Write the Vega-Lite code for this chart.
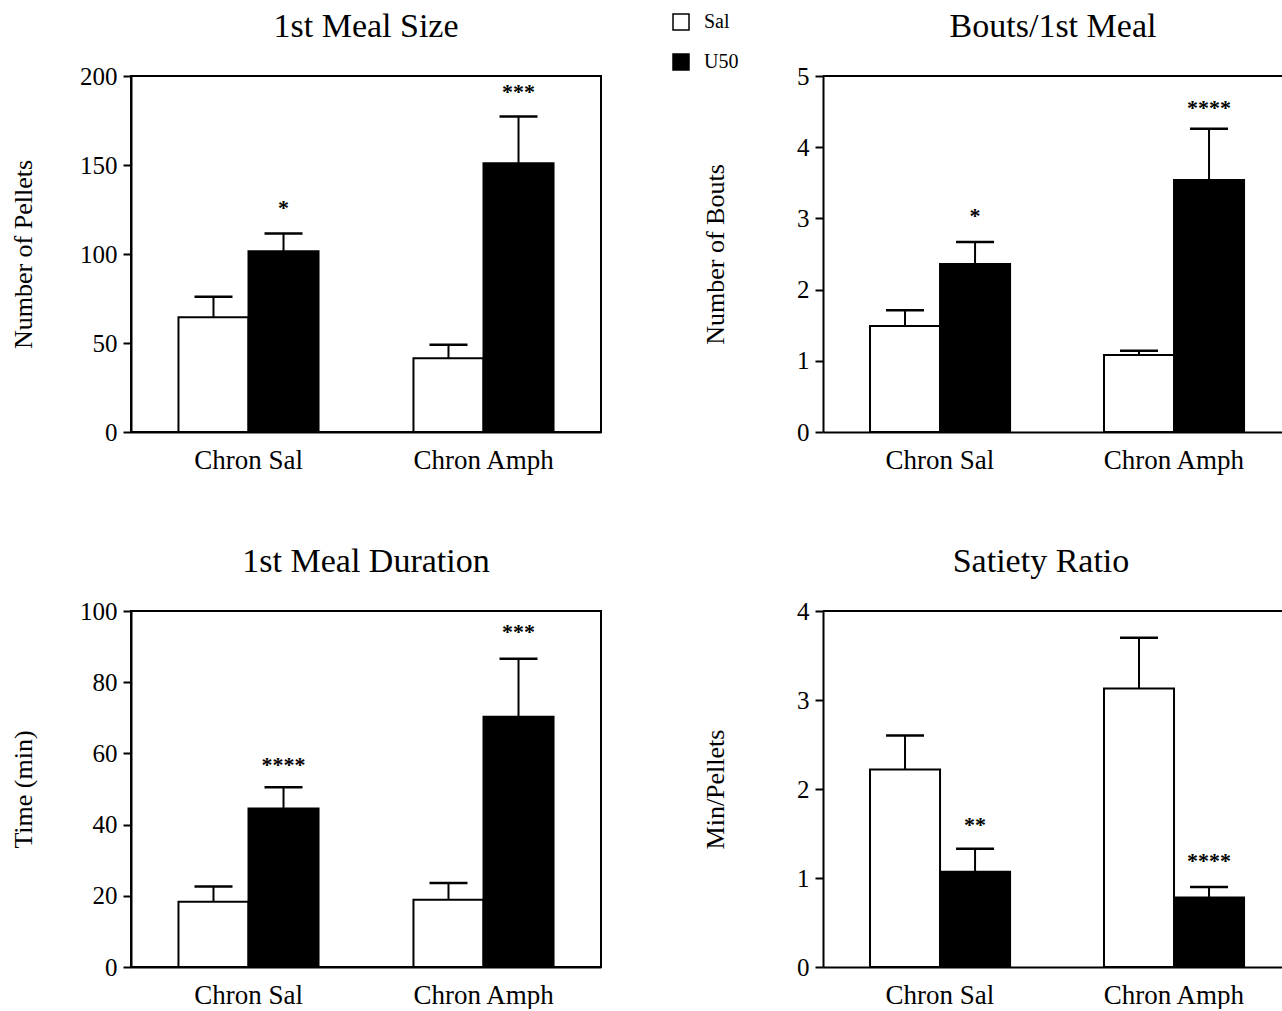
{
  "$schema": "https://vega.github.io/schema/vega-lite/v6.json",
  "background": "white",
  "padding": {"left": 9, "top": 9, "right": 0, "bottom": 0},
  "bounds": "flush",
  "spacing": {"row": 179, "column": 222},
  "columns": 2,
  "datasets": {
    "d": [
      {"panel": "size", "condition": "Chron Sal", "treatment": "Sal", "value": 64.5, "err": 76, "sig": "", "sigy": null},
      {"panel": "size", "condition": "Chron Sal", "treatment": "U50", "value": 101.5, "err": 111.5, "sig": "*", "sigy": 126},
      {"panel": "size", "condition": "Chron Amph", "treatment": "Sal", "value": 41.5, "err": 49, "sig": "", "sigy": null},
      {"panel": "size", "condition": "Chron Amph", "treatment": "U50", "value": 151, "err": 177.3, "sig": "***", "sigy": 191},
      {"panel": "bouts", "condition": "Chron Sal", "treatment": "Sal", "value": 1.49, "err": 1.71, "sig": "", "sigy": null},
      {"panel": "bouts", "condition": "Chron Sal", "treatment": "U50", "value": 2.36, "err": 2.67, "sig": "*", "sigy": 3.03},
      {"panel": "bouts", "condition": "Chron Amph", "treatment": "Sal", "value": 1.08, "err": 1.14, "sig": "", "sigy": null},
      {"panel": "bouts", "condition": "Chron Amph", "treatment": "U50", "value": 3.54, "err": 4.26, "sig": "****", "sigy": 4.55},
      {"panel": "dur", "condition": "Chron Sal", "treatment": "Sal", "value": 18.3, "err": 22.6, "sig": "", "sigy": null},
      {"panel": "dur", "condition": "Chron Sal", "treatment": "U50", "value": 44.5, "err": 50.5, "sig": "****", "sigy": 56.7},
      {"panel": "dur", "condition": "Chron Amph", "treatment": "Sal", "value": 18.9, "err": 23.6, "sig": "", "sigy": null},
      {"panel": "dur", "condition": "Chron Amph", "treatment": "U50", "value": 70.3, "err": 86.6, "sig": "***", "sigy": 94},
      {"panel": "sat", "condition": "Chron Sal", "treatment": "Sal", "value": 2.22, "err": 2.6, "sig": "", "sigy": null},
      {"panel": "sat", "condition": "Chron Sal", "treatment": "U50", "value": 1.07, "err": 1.33, "sig": "**", "sigy": 1.6},
      {"panel": "sat", "condition": "Chron Amph", "treatment": "Sal", "value": 3.13, "err": 3.7, "sig": "", "sigy": null},
      {"panel": "sat", "condition": "Chron Amph", "treatment": "U50", "value": 0.78, "err": 0.9, "sig": "****", "sigy": 1.19}
    ]
  },
  "concat": [
    {
      "width": 470, "height": 356,
      "title": {"text": "1st Meal Size"},
      "data": {"name": "d"},
      "transform": [{"filter": "datum.panel == 'size'"}],
      "layer": [
        {"mark": {"type": "bar", "stroke": "black", "strokeWidth": 2},
         "encoding": {
           "x": {"field": "condition", "type": "nominal", "sort": ["Chron Sal", "Chron Amph"], "scale": {"paddingInner": 0.404, "paddingOuter": 0.202}, "axis": {"title": null, "ticks": false, "labelAngle": 0, "labelPadding": 15}},
           "xOffset": {"field": "treatment", "sort": ["Sal", "U50"]},
           "y": {"field": "value", "type": "quantitative", "scale": {"domain": [0, 200]}, "axis": {"title": "Number of Pellets", "values": [0, 50, 100, 150, 200], "format": "d", "titleX": -108, "titleY": 178}},
           "fill": {"field": "treatment", "type": "nominal", "scale": {"domain": ["Sal", "U50"], "range": ["white", "black"]}, "legend": {"title": null}}
         }},
        {"mark": {"type": "rule", "strokeWidth": 2, "color": "black"},
         "encoding": {"x": {"field": "condition", "type": "nominal", "sort": ["Chron Sal", "Chron Amph"]}, "xOffset": {"field": "treatment", "sort": ["Sal", "U50"]}, "y": {"field": "value", "type": "quantitative"}, "y2": {"field": "err"}}},
        {"mark": {"type": "tick", "orient": "horizontal", "size": 38, "thickness": 2.5, "color": "black", "opacity": 1},
         "encoding": {"x": {"field": "condition", "type": "nominal", "sort": ["Chron Sal", "Chron Amph"]}, "xOffset": {"field": "treatment", "sort": ["Sal", "U50"]}, "y": {"field": "err", "type": "quantitative"}}},
        {"mark": {"type": "text", "font": "Liberation Serif", "fontSize": 22, "fontWeight": "bold", "baseline": "middle", "dy": 0, "color": "black"},
         "encoding": {"x": {"field": "condition", "type": "nominal", "sort": ["Chron Sal", "Chron Amph"]}, "xOffset": {"field": "treatment", "sort": ["Sal", "U50"]}, "y": {"field": "sigy", "type": "quantitative"}, "text": {"field": "sig"}}}
      ]
    },
    {
      "width": 460, "height": 356,
      "view": {"stroke": null},
      "title": {"text": "Bouts/1st Meal"},
      "data": {"name": "d"},
      "transform": [{"filter": "datum.panel == 'bouts'"}],
      "layer": [
        {"mark": {"type": "bar", "stroke": "black", "strokeWidth": 2},
         "encoding": {
           "x": {"field": "condition", "type": "nominal", "sort": ["Chron Sal", "Chron Amph"], "scale": {"paddingInner": 0.402, "paddingOuter": 0.184, "align": 0.546}, "axis": {"title": null, "ticks": false, "labelAngle": 0, "labelPadding": 15}},
           "xOffset": {"field": "treatment", "sort": ["Sal", "U50"]},
           "y": {"field": "value", "type": "quantitative", "scale": {"domain": [0, 5]}, "axis": {"title": "Number of Bouts", "values": [0, 1, 2, 3, 4, 5], "format": "d", "titleX": -108, "titleY": 178}},
           "fill": {"field": "treatment", "type": "nominal", "scale": {"domain": ["Sal", "U50"], "range": ["white", "black"]}, "legend": {"title": null}}
         }},
        {"mark": {"type": "rule", "strokeWidth": 2, "color": "black"},
         "encoding": {"x": {"field": "condition", "type": "nominal", "sort": ["Chron Sal", "Chron Amph"]}, "xOffset": {"field": "treatment", "sort": ["Sal", "U50"]}, "y": {"field": "value", "type": "quantitative"}, "y2": {"field": "err"}}},
        {"mark": {"type": "tick", "orient": "horizontal", "size": 38, "thickness": 2.5, "color": "black", "opacity": 1},
         "encoding": {"x": {"field": "condition", "type": "nominal", "sort": ["Chron Sal", "Chron Amph"]}, "xOffset": {"field": "treatment", "sort": ["Sal", "U50"]}, "y": {"field": "err", "type": "quantitative"}}},
        {"mark": {"type": "text", "font": "Liberation Serif", "fontSize": 22, "fontWeight": "bold", "baseline": "middle", "dy": 0, "color": "black"},
         "encoding": {"x": {"field": "condition", "type": "nominal", "sort": ["Chron Sal", "Chron Amph"]}, "xOffset": {"field": "treatment", "sort": ["Sal", "U50"]}, "y": {"field": "sigy", "type": "quantitative"}, "text": {"field": "sig"}}},
        {"data": {"values": [{"top": 5}]}, "mark": {"type": "rule", "strokeWidth": 2, "color": "black"},
         "encoding": {"y": {"field": "top", "type": "quantitative"}}}
      ]
    },
    {
      "width": 470, "height": 356,
      "title": {"text": "1st Meal Duration"},
      "data": {"name": "d"},
      "transform": [{"filter": "datum.panel == 'dur'"}],
      "layer": [
        {"mark": {"type": "bar", "stroke": "black", "strokeWidth": 2},
         "encoding": {
           "x": {"field": "condition", "type": "nominal", "sort": ["Chron Sal", "Chron Amph"], "scale": {"paddingInner": 0.404, "paddingOuter": 0.202}, "axis": {"title": null, "ticks": false, "labelAngle": 0, "labelPadding": 15}},
           "xOffset": {"field": "treatment", "sort": ["Sal", "U50"]},
           "y": {"field": "value", "type": "quantitative", "scale": {"domain": [0, 100]}, "axis": {"title": "Time (min)", "values": [0, 20, 40, 60, 80, 100], "format": "d", "titleX": -108, "titleY": 178}},
           "fill": {"field": "treatment", "type": "nominal", "scale": {"domain": ["Sal", "U50"], "range": ["white", "black"]}, "legend": {"title": null}}
         }},
        {"mark": {"type": "rule", "strokeWidth": 2, "color": "black"},
         "encoding": {"x": {"field": "condition", "type": "nominal", "sort": ["Chron Sal", "Chron Amph"]}, "xOffset": {"field": "treatment", "sort": ["Sal", "U50"]}, "y": {"field": "value", "type": "quantitative"}, "y2": {"field": "err"}}},
        {"mark": {"type": "tick", "orient": "horizontal", "size": 38, "thickness": 2.5, "color": "black", "opacity": 1},
         "encoding": {"x": {"field": "condition", "type": "nominal", "sort": ["Chron Sal", "Chron Amph"]}, "xOffset": {"field": "treatment", "sort": ["Sal", "U50"]}, "y": {"field": "err", "type": "quantitative"}}},
        {"mark": {"type": "text", "font": "Liberation Serif", "fontSize": 22, "fontWeight": "bold", "baseline": "middle", "dy": 0, "color": "black"},
         "encoding": {"x": {"field": "condition", "type": "nominal", "sort": ["Chron Sal", "Chron Amph"]}, "xOffset": {"field": "treatment", "sort": ["Sal", "U50"]}, "y": {"field": "sigy", "type": "quantitative"}, "text": {"field": "sig"}}}
      ]
    },
    {
      "width": 460, "height": 356,
      "view": {"stroke": null},
      "title": {"text": "Satiety Ratio", "dx": -12},
      "data": {"name": "d"},
      "transform": [{"filter": "datum.panel == 'sat'"}],
      "layer": [
        {"mark": {"type": "bar", "stroke": "black", "strokeWidth": 2},
         "encoding": {
           "x": {"field": "condition", "type": "nominal", "sort": ["Chron Sal", "Chron Amph"], "scale": {"paddingInner": 0.402, "paddingOuter": 0.184, "align": 0.546}, "axis": {"title": null, "ticks": false, "labelAngle": 0, "labelPadding": 15}},
           "xOffset": {"field": "treatment", "sort": ["Sal", "U50"]},
           "y": {"field": "value", "type": "quantitative", "scale": {"domain": [0, 4]}, "axis": {"title": "Min/Pellets", "values": [0, 1, 2, 3, 4], "format": "d", "titleX": -108, "titleY": 178}},
           "fill": {"field": "treatment", "type": "nominal", "scale": {"domain": ["Sal", "U50"], "range": ["white", "black"]}, "legend": {"title": null}}
         }},
        {"mark": {"type": "rule", "strokeWidth": 2, "color": "black"},
         "encoding": {"x": {"field": "condition", "type": "nominal", "sort": ["Chron Sal", "Chron Amph"]}, "xOffset": {"field": "treatment", "sort": ["Sal", "U50"]}, "y": {"field": "value", "type": "quantitative"}, "y2": {"field": "err"}}},
        {"mark": {"type": "tick", "orient": "horizontal", "size": 38, "thickness": 2.5, "color": "black", "opacity": 1},
         "encoding": {"x": {"field": "condition", "type": "nominal", "sort": ["Chron Sal", "Chron Amph"]}, "xOffset": {"field": "treatment", "sort": ["Sal", "U50"]}, "y": {"field": "err", "type": "quantitative"}}},
        {"mark": {"type": "text", "font": "Liberation Serif", "fontSize": 22, "fontWeight": "bold", "baseline": "middle", "dy": 0, "color": "black"},
         "encoding": {"x": {"field": "condition", "type": "nominal", "sort": ["Chron Sal", "Chron Amph"]}, "xOffset": {"field": "treatment", "sort": ["Sal", "U50"]}, "y": {"field": "sigy", "type": "quantitative"}, "text": {"field": "sig"}}},
        {"data": {"values": [{"top": 4}]}, "mark": {"type": "rule", "strokeWidth": 2, "color": "black"},
         "encoding": {"y": {"field": "top", "type": "quantitative"}}}
      ]
    }
  ],
  "config": {
    "font": "Liberation Serif",
    "view": {"stroke": "black", "strokeWidth": 2},
    "axis": {
      "labelFont": "Liberation Serif", "labelFontSize": 25, "labelColor": "black",
      "titleFont": "Liberation Serif", "titleFontSize": 26, "titleFontWeight": "normal", "titleColor": "black",
      "domainColor": "black", "domainWidth": 2, "tickColor": "black", "tickWidth": 2, "tickSize": 8,
      "grid": false
    },
    "axisY": {"labelPadding": 6, "titleBaseline": "middle", "titleAlign": "center", "titleAngle": -90},
    "axisX": {"labelFontSize": 27},
    "title": {"font": "Liberation Serif", "fontSize": 34, "fontWeight": "normal", "color": "black", "frame": "group", "baseline": "alphabetic", "offset": 20, "anchor": "middle"},
    "legend": {
      "orient": "none", "legendX": 540, "legendY": -64,
      "symbolType": "square", "symbolSize": 256, "symbolStrokeColor": "black", "symbolStrokeWidth": 1.5,
      "labelFont": "Liberation Serif", "labelFontSize": 20, "labelColor": "black", "labelOffset": 13,
      "rowPadding": 18, "padding": 0
    }
  }
}
